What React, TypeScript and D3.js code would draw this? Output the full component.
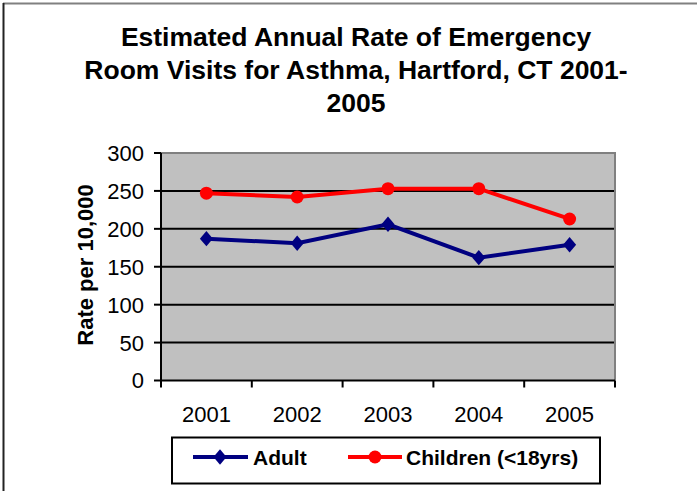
import React from "react";
import * as d3 from "d3";

const years = ["2001", "2002", "2003", "2004", "2005"];
const adult = [187, 181, 206, 162, 179];
const children = [247, 242, 253, 253, 213];
const yTicks = [0, 50, 100, 150, 200, 250, 300];
const titleLines = ["Estimated Annual Rate of Emergency", "Room Visits for Asthma, Hartford, CT 2001-", "2005"];

const W = 697, H = 491;
const plot = { left: 161, right: 615, top: 153, bottom: 380.5 };

export default function App() {
  const x = d3.scaleBand<string>().domain(years).range([plot.left, plot.right]);
  const y = d3.scaleLinear().domain([0, 300]).range([plot.bottom, plot.top]);
  const cx = (d: string) => (x(d) as number) + x.bandwidth() / 2;
  const line = d3.line<number>().x((_, i) => cx(years[i])).y((v) => y(v));
  const font = "'Liberation Sans', Arial, sans-serif";
  const diamond = d3.symbol().type(d3.symbolDiamond2).size(150)();
  const xTickPos = years.map((d) => x(d) as number).concat([plot.right]);

  return (
    <svg width={W} height={H} style={{ position: "absolute", left: 0, top: 0 }} fontFamily={font}>
      <rect width={W} height={H} fill="#fff" />
      <line x1={3} x2={W} y1={3.5} y2={3.5} stroke="#808080" strokeWidth={2} />
      <line x1={3.5} x2={3.5} y1={3} y2={H} stroke="#222" strokeWidth={2} />
      {titleLines.map((t, i) => (
        <text key={i} x={356} y={46 + i * 33} textAnchor="middle" fontWeight="bold" fontSize={26.5}>{t}</text>
      ))}
      <rect x={plot.left} y={plot.top} width={plot.right - plot.left} height={plot.bottom - plot.top} fill="#C0C0C0" />
      {yTicks.filter((t) => t > 0 && t < 300).map((t) => (
        <line key={t} x1={plot.left} x2={plot.right} y1={y(t)} y2={y(t)} stroke="#000" strokeWidth={2} />
      ))}
      <polyline points={`${plot.left},${plot.top} ${plot.right},${plot.top} ${plot.right},${plot.bottom}`} fill="none" stroke="#808080" strokeWidth={2} />
      <line x1={plot.left} x2={plot.left} y1={plot.top} y2={plot.bottom} stroke="#000" strokeWidth={2} />
      <line x1={plot.left} x2={plot.right} y1={plot.bottom} y2={plot.bottom} stroke="#000" strokeWidth={2} />
      {yTicks.map((t) => (
        <g key={t}>
          <line x1={plot.left - 7} x2={plot.left} y1={y(t)} y2={y(t)} stroke="#000" strokeWidth={2} />
          <text x={144} y={y(t)} dy="0.36em" textAnchor="end" fontSize={22}>{t}</text>
        </g>
      ))}
      {xTickPos.map((p, i) => (
        <line key={i} x1={p} x2={p} y1={plot.bottom} y2={plot.bottom + 7} stroke="#000" strokeWidth={2} />
      ))}
      {years.map((d) => (
        <text key={d} x={cx(d)} y={422} textAnchor="middle" fontSize={22}>{d}</text>
      ))}
      <text transform={`translate(93,265) rotate(-90)`} textAnchor="middle" fontWeight="bold" fontSize={22}>Rate per 10,000</text>
      <path d={line(adult) as string} fill="none" stroke="#000080" strokeWidth={4} />
      {adult.map((v, i) => (
        <path key={i} d={diamond as string} transform={`translate(${cx(years[i])},${y(v)}) scale(0.85,1)`} fill="#000080" />
      ))}
      <path d={line(children) as string} fill="none" stroke="#FF0000" strokeWidth={4} />
      {children.map((v, i) => (
        <circle key={i} cx={cx(years[i])} cy={y(v)} r={6.5} fill="#FF0000" />
      ))}
      <rect x={172} y={437.5} width={428} height={46} fill="#fff" stroke="#000" strokeWidth={2} />
      <line x1={193} x2={248} y1={457} y2={457} stroke="#000080" strokeWidth={4} />
      <path d={diamond as string} transform="translate(220,457) scale(0.85,1)" fill="#000080" />
      <text x={253} y={465} fontWeight="bold" fontSize={21}>Adult</text>
      <line x1={348} x2={402} y1={457} y2={457} stroke="#FF0000" strokeWidth={4} />
      <circle cx={375} cy={457} r={6.5} fill="#FF0000" />
      <text x={406} y={465} fontWeight="bold" fontSize={21}>Children (&lt;18yrs)</text>
    </svg>
  );
}
